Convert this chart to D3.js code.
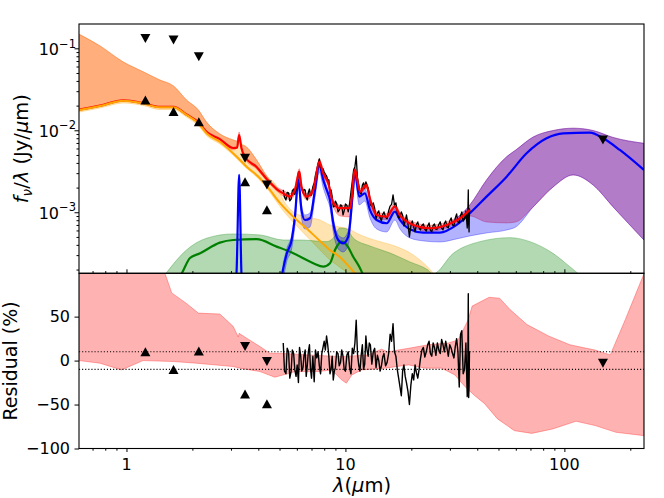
<!DOCTYPE html>
<html>
<head>
<meta charset="utf-8">
<script src="https://d3js.org/d3.v7.min.js"></script>
<style>
  html, body { margin: 0; padding: 0; background: #fff; }
  svg { display: block; font-family: "DejaVu Sans", sans-serif; }
</style>
</head>
<body>
<svg id="chart" width="664" height="498"></svg>
<script>
// ---- stellar component (orange) ----
const stellarWave = [0.609, 0.757, 0.967, 1.19, 1.42, 1.64, 1.88, 2.13, 2.32, 2.67, 3.19, 3.54, 4.07, 4.52, 5.02, 5.77, 6.63, 7.65, 8.49, 9.4, 10.4, 11.2, 12.0];
const stellarFlux = [0.0177, 0.0198, 0.0230, 0.0213, 0.0191, 0.0191, 0.0154, 0.0122, 0.00919, 0.00726, 0.00476, 0.0036, 0.0026, 0.00187, 0.0013, 0.000884, 0.000638, 0.000447, 0.000347, 0.000287, 0.000217, 0.000172, 0.000137];
const stellarBandWave = [0.609, 0.757, 0.967, 1.19, 1.42, 1.64, 1.88, 2.13, 2.32, 2.67, 3.07, 3.48, 3.93, 4.37, 4.85, 5.2, 5.77, 6.63, 7.65, 8.49, 9.4, 10.4, 11.2, 12.7, 14.4, 16.8, 20.4, 23.5, 25.6];
const stellarBandHi = [0.148, 0.107, 0.0681, 0.0518, 0.0411, 0.0347, 0.0234, 0.0177, 0.0126, 0.00902, 0.00762, 0.00643, 0.00434, 0.00277, 0.00209, 0.00141, 0.00101, 0.000877, 0.000805, 0.0007, 0.000662, 0.000626, 0.000559, 0.000486, 0.000438, 0.000388, 0.000302, 0.000221, 0.000172];
const stellarBandLo = [0.0167, 0.0187, 0.0215, 0.0201, 0.0179, 0.0179, 0.0145, 0.0114, 0.00864, 0.00681, 0.005, 0.00357, 0.0027, 0.00198, 0.00134, 0.00104, 0.000762, 0.000514, 0.000347, 0.000262, 0.000215, 0.000163, 1e-5, 1e-5, 1e-5, 1e-5, 1e-5, 1e-5, 1e-5];

// ---- total model (red) ----
const totalWave = [0.609, 0.757, 0.967, 1.19, 1.42, 1.64, 1.88, 2.13, 2.32, 2.67, 3.07, 3.20, 3.27, 3.35, 3.48, 3.93, 4.37, 4.85,
  5.2, 5.58, 5.88, 6.16, 6.3, 6.65, 7.13, 7.6, 7.92, 8.35, 8.8, 9.45, 10.5, 11.05, 11.67, 12.45, 12.98, 13.9, 15.4, 16.8, 17.7, 20.4, 24.3, 29.0, 33.4, 37.0];
const totalFlux = [0.0179, 0.0200, 0.0232, 0.0215, 0.0193, 0.0193, 0.0156, 0.0125, 0.0096, 0.0078, 0.00608, 0.00615, 0.00876, 0.00608, 0.00472, 0.00357, 0.00255, 0.00192,
  0.0017, 0.00155, 0.00187, 0.00313, 0.00205, 0.00155, 0.00187, 0.00414, 0.00299, 0.00226, 0.00129, 0.00112, 0.00112, 0.00328, 0.00178, 0.00215, 0.00141, 0.000927, 0.000884, 0.00117, 0.000927, 0.0007, 0.000638, 0.0007, 0.000845, 0.00107];
const totalBandWave = [0.609, 0.757, 0.967, 1.19, 1.42, 1.64, 1.88, 2.13, 2.32, 2.67, 3.07, 3.20, 3.27, 3.35, 3.48, 3.93, 4.37, 4.85,
  5.2, 5.58, 5.88, 6.16, 6.3, 6.65, 7.13, 7.6, 7.92, 8.35, 8.8, 9.45, 10.5, 11.05, 11.67, 12.45, 12.98, 13.9, 15.4, 16.8, 17.7, 20.4, 24.3, 29.0, 33.4, 37.0,
  44.1, 54.5, 60.0, 72.0, 88.9, 109.7, 135.3, 167.0, 230.7];
const totalBandHi = [0.148, 0.107, 0.0681, 0.0518, 0.0411, 0.0347, 0.0234, 0.0177, 0.0126, 0.00902, 0.00762, 0.0074, 0.00954, 0.00662, 0.00643, 0.00434, 0.00277, 0.00204,
  0.00185, 0.00169, 0.00204, 0.0034, 0.00223, 0.00169, 0.00204, 0.0045, 0.00325, 0.00246, 0.0014, 0.00122, 0.00122, 0.00357, 0.00194, 0.00234, 0.00154, 0.00101, 0.000961, 0.00127, 0.00101, 0.000762, 0.000694, 0.000762, 0.000919, 0.00123,
  0.00248, 0.00476, 0.00575, 0.00828, 0.00994, 0.0106, 0.00994, 0.00817, 0.00694];
const totalBandLo = [0.0174, 0.0195, 0.0225, 0.0209, 0.0187, 0.0187, 0.0152, 0.0121, 0.0094, 0.00762, 0.00575, 0.00608, 0.00783, 0.00575, 0.00447, 0.00337, 0.00241, 0.00182,
  0.00157, 0.00142, 0.00172, 0.00287, 0.00189, 0.00142, 0.00172, 0.00381, 0.00275, 0.00208, 0.00118, 0.000902, 0.000877, 0.00302, 0.00164, 0.00198, 0.0013, 0.000852, 0.000812, 0.00108, 0.000852, 0.000643, 0.000587, 0.000643, 0.000777, 0.000902,
  0.000762, 0.000741, 0.000762, 0.00116, 0.00204, 0.00285, 0.00215, 0.00116, 0.000459];

// ---- hot dust (green) ----
const hotWave = [1.66, 1.79, 1.95, 2.17, 2.67, 3.07, 3.93, 4.85, 5.78, 7.13, 7.92, 8.5, 8.96, 9.61, 10.13, 10.85, 11.86, 12.27];
const hotFlux = [0.00013, 0.00018, 0.000277, 0.000316, 0.000426, 0.000459, 0.000469, 0.000381, 0.000316, 0.000239, 0.000217, 0.000239, 0.000347, 0.000438, 0.000399, 0.000287, 0.000189, 0.000149];
const hotBandWave = [1.52, 1.88, 2.32, 3.07, 4.07, 5.2, 6.2, 8.21, 8.8, 9.45, 10.13, 10.85, 12.94, 15.97, 19.7, 23.8, 25.1, 31.1, 41.1, 56.4, 69.6, 88.6, 105.9, 117.7];
const hotBandHi = [0.000182, 0.000347, 0.000482, 0.000544, 0.000529, 0.000459, 0.000459, 0.000438, 0.000486, 0.000643, 0.000626, 0.000486, 0.000388, 0.000319, 0.000248, 0.000198, 0.000177, 0.000316, 0.000438, 0.00049, 0.000438, 0.000316, 0.000217, 0.000172];
const hotBandLo = [1e-5, 1e-5, 1e-5, 1e-5, 1e-5, 1e-5, 1e-5, 1e-5, 1e-5, 1e-5, 1e-5, 1e-5, 1e-5, 1e-5, 1e-5, 1e-5, 1e-5, 1e-5, 1e-5, 1e-5, 1e-5, 1e-5, 1e-5, 1e-5];

// ---- PAH + cold dust (blue) ----
const dustWave = [2.97, 3.18, 3.27, 3.35, 3.48, 4.5, 5.0,
  5.2, 5.39, 5.68, 5.88, 6.09, 6.3, 6.53, 6.89, 7.26, 7.6, 7.92, 8.21, 8.5, 8.8, 9.27, 9.77, 10.3, 10.8, 11.05, 11.56,
  12.27, 12.94, 13.88, 15.42, 16.83, 17.74, 19.7, 22.7, 27.0, 32.2, 37.0, 44.1, 54.5, 67.2, 82.9, 98.7, 130.8, 150.3, 179.2, 230.7];
const dustFlux = [5e-5, 1.8e-4, 0.00285, 1.8e-4, 5e-5, 4e-5, 1.2e-4,
  0.000207, 0.00031, 0.000459, 0.000884, 0.00248, 0.00107, 0.000805, 0.000845, 0.00187, 0.00377, 0.00248, 0.00187, 0.00141, 0.000734, 0.000459, 0.000418, 0.000504, 0.0017, 0.00313, 0.00155,
  0.0017, 0.00107, 0.000805, 0.000734, 0.00102, 0.000805, 0.00062, 0.000564, 0.000564, 0.0007, 0.000972, 0.00155, 0.00272, 0.00524, 0.00799, 0.00919, 0.00935, 0.00799, 0.00575, 0.00328];
const dustBandWave = [5.2, 5.39, 5.68, 5.88, 6.09, 6.3, 6.53, 6.89, 7.26, 7.6, 7.92, 8.21, 8.5, 8.8, 9.27, 9.77, 10.3, 10.8, 11.05, 11.56,
  12.27, 12.94, 13.88, 15.42, 16.83, 17.74, 19.7, 22.7, 27.0, 32.2, 37.0, 44.1, 54.5, 60.0, 72.0, 88.9, 109.7, 135.3, 167.0, 230.7];
const dustBandHi = [0.000241, 0.000357, 0.000529, 0.00101, 0.00277, 0.00123, 0.000927, 0.00098, 0.00209, 0.00422, 0.00277, 0.00209, 0.00158, 0.000852, 0.000529, 0.000486, 0.000591, 0.00192, 0.00347, 0.00177,
  0.00192, 0.00123, 0.000927, 0.000852, 0.00116, 0.000927, 0.00072, 0.000643, 0.000643, 0.000852, 0.00123, 0.00248, 0.00476, 0.00575, 0.00828, 0.00994, 0.0106, 0.00994, 0.00817, 0.00694];
const dustBandLo = [0.000149, 0.000248, 0.000357, 0.000681, 0.00198, 0.000852, 0.000626, 0.000662, 0.00149, 0.0031, 0.00198, 0.00149, 0.00113, 0.000575, 0.000357, 0.000328, 0.000399, 0.00137, 0.00255, 0.00123,
  0.00137, 0.000852, 0.000626, 0.000575, 0.000805, 0.000626, 0.000486, 0.000447, 0.000434, 0.000473, 0.000514, 0.000559, 0.000608, 0.000662, 0.00116, 0.00204, 0.00285, 0.00215, 0.00116, 0.000459];

// ---- IRS spectrum and its residual ----
const specWave = [5.2, 5.27, 5.35, 5.42, 5.5, 5.57, 5.65, 5.72, 5.8, 5.87, 5.95, 6.02, 6.1, 6.17, 6.25, 6.32, 6.4, 6.47, 6.55, 6.62,
  6.7, 6.77, 6.85, 6.92, 7.0, 7.1, 7.2, 7.3, 7.4, 7.5, 7.6, 7.7, 7.8, 7.9, 8.0, 8.1, 8.2, 8.3, 8.4, 8.5,
  8.6, 8.7, 8.8, 8.9, 9.0, 9.12, 9.25, 9.37, 9.5, 9.62, 9.75, 9.87, 10.0, 10.15, 10.3, 10.45, 10.6, 10.75, 10.9, 11.05,
  11.2, 11.35, 11.5, 11.65, 11.8, 11.95, 12.1, 12.25, 12.4, 12.55, 12.7, 12.85, 13.0, 13.2, 13.4, 13.6, 13.8, 14.0, 14.2, 14.4,
  14.6, 14.8, 15.0, 15.25, 15.5, 15.75, 16.0, 16.25, 16.5, 16.75, 17.0, 17.25, 17.5, 17.75, 18.0, 18.25, 18.5, 18.75, 19.0, 19.3,
  19.6, 19.9, 20.2, 20.5, 20.8, 21.1, 21.4, 21.7, 22.0, 22.35, 22.7, 23.05, 23.4, 23.75, 24.1, 24.45, 24.8, 25.15, 25.5, 25.9,
  26.3, 26.7, 27.1, 27.5, 27.9, 28.3, 28.7, 29.1, 29.5, 29.95, 30.4, 30.85, 31.3, 31.75, 32.2, 32.65, 33.1, 33.55, 34.0, 34.5,
  35.0, 35.5, 36.0, 36.2, 36.4, 36.55, 36.7, 36.85, 37.0];
const specFlux = [0.00187, 0.00152, 0.00141, 0.00175, 0.00172, 0.00138, 0.00145, 0.00183, 0.00192, 0.00165, 0.00187, 0.0022, 0.0031, 0.0029, 0.00221, 0.00195, 0.00172, 0.0019, 0.00187, 0.00151,
  0.00141, 0.00175, 0.00192, 0.0016, 0.00163, 0.00205, 0.00228, 0.00285, 0.00328, 0.0039, 0.00447, 0.0036, 0.00319, 0.0034, 0.0031, 0.0029, 0.00277, 0.0025, 0.00248, 0.0017,
  0.00187, 0.00155, 0.00116, 0.00118, 0.00137, 0.00128, 0.00101, 0.00106, 0.00123, 0.00121, 0.000927, 0.00104, 0.00126, 0.00122, 0.00101, 0.00128, 0.00177, 0.0024, 0.00328, 0.0036,
  0.00486, 0.0026, 0.00215, 0.00175, 0.00167, 0.00215, 0.00228, 0.00196, 0.00234, 0.00212, 0.00198, 0.00165, 0.00123, 0.00118, 0.0013, 0.00112, 0.000829, 0.000975, 0.00104, 0.000855,
  0.000783, 0.000935, 0.00101, 0.000875, 0.000829, 0.00104, 0.00119, 0.00125, 0.00163, 0.00122, 0.0013, 0.00098, 0.000852, 0.00088, 0.00101, 0.00092, 0.000681, 0.00078, 0.000927, 0.00072,
  0.0005, 0.00068, 0.000783, 0.00066, 0.000575, 0.00071, 0.000762, 0.00064, 0.000608, 0.00069, 0.00072, 0.00062, 0.000591, 0.00068, 0.000741, 0.0006, 0.000575, 0.00069, 0.00072, 0.00062,
  0.000626, 0.00071, 0.000762, 0.00064, 0.000608, 0.00073, 0.000783, 0.00066, 0.000643, 0.00078, 0.000852, 0.0007, 0.000681, 0.00085, 0.000953, 0.00076, 0.000741, 0.00091, 0.00101, 0.00078,
  0.000829, 0.00104, 0.000643, 0.00088, 0.00187, 0.00072, 0.000575, 0.0011, 0.00101];
const specResid = [20, -12, -15, 14, 10, -20, -12, 12, 8, -10, -18, -5, -25, 15, 5, -12, -8, 6, 12, -18,
  -5, 10, 18, -8, -20, 5, -24, 12, 3, 10, -6, -15, 8, 15, 22, 12, 28, 18, 5, -15,
  -10, 5, -22, -12, -8, 10, 8, -6, -2, 12, 5, -10, -12, 6, 10, -8, -15, 14, 8, 20,
  46, 8, -5, -12, 6, 18, -10, -4, 28, 12, 5, 20, 18, -4, 10, 14, -8, 6, 0, -12,
  -6, 4, 8, -6, -2, 8, 30, 22, 42, 10, 5, -10, -20, -30, -40, -12, -5, -18, -25, -35,
  -50, -28, -15, -22, -5, -14, -20, -10, 2, 12, 15, 4, 10, 18, 22, 8, 5, 20, 15, 6,
  20, 12, 8, 24, 18, 10, 22, 14, 5, 18, 14, 8, 3, 16, 25, 10, -30, 30, 34, -15,
  -10, 20, -41, -20, 76, -42, -30, 10, 10];

// ---- photometry ----
const photWave = [1.22, 1.64, 2.14, 3.48, 4.38];
const photFlux = [0.0234, 0.0169, 0.0127, 0.00236, 0.00107];
const photResid = [10, -10, 11, -38, -49];
const limWave = [1.22, 1.64, 2.14, 3.48, 4.38, 150];
const limFlux = [0.132, 0.126, 0.079, 0.00456, 0.00215, 0.0076];
const limResWave = [3.48, 4.38, 150];
const limResid = [16, -1, -3];

// ---- residual envelope ----
const residHiWave = [0.607, 1.45, 1.5, 1.61, 1.88, 2.13, 2.67, 3.07, 3.24, 3.27, 3.54, 4.07, 4.52, 5.02, 6.76, 9.6, 12.7, 14.6, 15.6, 19.4, 23.9, 29.5, 32.7, 36.3, 37.9, 45.3, 50.6, 56.5, 67.5, 84.7, 106, 138, 162, 190, 231];
const residHi = [150, 150, 99, 77, 65, 54, 53, 39, 27, 31, 25.5, 16, 8.4, 8.4, 6.5, 4.5, 6.5, 13, 10, 14, 18, 20, 23.5, 46, 62, 72, 71, 58, 41, 28, 18, 12, 6.5, 47, 99];
const residLoWave = [0.607, 0.757, 0.95, 1.19, 1.64, 2.09, 3.07, 3.3, 4.07, 4.76, 5.9, 7.5, 8.66, 9.6, 10.1, 10.7, 11.86, 15.2, 19.4, 23.1, 27.5, 31.6, 35.1, 39, 43.2, 49.5, 59.1, 71, 88.4, 113, 138, 172, 231];
const residLo = [0, -3, -10.6, 0, -1.1, -3, -6.8, -8.6, -12.5, -18.9, -12.5, -12.5, -10.6, -21.9, -25.7, -16.3, -10.6, -8.6, -4.9, -8.6, -8.6, -16.3, -29.5, -40, -49, -66.3, -79.7, -82.8, -77.8, -69, -73.9, -81.6, -85.4];
const residRefLevels = [10, -10];

// ---- ticks ----
const xTickValues = [1, 10, 100];
const xTickLabels = ["1", "10", "100"];
const yTopTickValues = [1e-3, 1e-2, 1e-1];
const yTopTickExp = ["\u22123", "\u22122", "\u22121"];
const yResTickValues = [-100, -50, 0, 50];
const yResTickLabels = ["\u2212100", "\u221250", "0", "50"];

// ---------------------------------------------------------------
const svg = d3.select("#chart");
const L = 79, R = 644, T = 24, MID = 273.3, B = 448.5;

const x = d3.scaleLog().domain([0.607, 231]).range([L, R]);
const yTop = d3.scaleLog().domain([1.8e-4, 0.198]).range([MID, T]);
const yRes = d3.scaleLinear().domain([-100, 99.3]).range([B, MID]);

const defs = svg.append("defs");
defs.append("clipPath").attr("id", "clip-top")
  .append("rect").attr("x", L).attr("y", T).attr("width", R - L).attr("height", MID - T);
defs.append("clipPath").attr("id", "clip-res")
  .append("rect").attr("x", L).attr("y", MID).attr("width", R - L).attr("height", B - MID);

const gTop = svg.append("g").attr("clip-path", "url(#clip-top)");
const gRes = svg.append("g").attr("clip-path", "url(#clip-res)");

const zip2 = (w, a) => w.map((d, i) => ({ x: d, y: a[i] }));
const zip3 = (w, hi, lo) => w.map((d, i) => ({ x: d, hi: hi[i], lo: lo[i] }));

const bandArea = d3.area().curve(d3.curveMonotoneX)
  .x(d => x(d.x)).y0(d => yTop(d.lo)).y1(d => yTop(d.hi));
const smoothLine = d3.line().curve(d3.curveMonotoneX)
  .x(d => x(d.x)).y(d => yTop(d.y));
const rawLine = d3.line()
  .x(d => x(d.x)).y(d => yTop(d.y));

function band(wave, hi, lo, color) {
  gTop.append("path").datum(zip3(wave, hi, lo))
    .attr("d", bandArea)
    .attr("fill", color).attr("fill-opacity", 0.3)
    .attr("stroke", color).attr("stroke-opacity", 0.3).attr("stroke-width", 1);
}
function curve(wave, flux, color, width, gen) {
  gTop.append("path").datum(zip2(wave, flux))
    .attr("d", gen || smoothLine)
    .attr("fill", "none").attr("stroke", color)
    .attr("stroke-width", width).attr("stroke-linejoin", "round");
}

// bands (red first so the others tint over it)
band(totalBandWave, totalBandHi, totalBandLo, "red");
band(stellarBandWave, stellarBandHi, stellarBandLo, "orange");
band(hotBandWave, hotBandHi, hotBandLo, "green");
band(dustBandWave, dustBandHi, dustBandLo, "blue");

// model lines + data
curve(hotWave, hotFlux, "green", 2.2);
curve(dustWave, dustFlux, "blue", 2.2);
curve(specWave, specFlux, "black", 1.3, rawLine);
curve(totalWave, totalFlux, "red", 2.2);
curve(stellarWave, stellarFlux, "orange", 2);

const triUp = "M0,-4.5L5,4.5L-5,4.5Z";
const triDown = "M0,4.5L5,-4.5L-5,-4.5Z";

svg.append("g").selectAll("path")
  .data(zip2(photWave, photFlux)).join("path")
  .attr("d", triUp).attr("fill", "black")
  .attr("transform", d => `translate(${x(d.x)},${yTop(d.y)})`);
svg.append("g").selectAll("path")
  .data(zip2(limWave, limFlux)).join("path")
  .attr("d", triDown).attr("fill", "black")
  .attr("transform", d => `translate(${x(d.x)},${yTop(d.y)})`);

// ---- residual panel ----
const resLine = d3.line().x(d => x(d.x)).y(d => yRes(d.y));
const envelope = zip2(residHiWave, residHi).concat(zip2(residLoWave, residLo).reverse());
gRes.append("path").datum(envelope)
  .attr("d", d => resLine(d) + "Z")
  .attr("fill", "red").attr("fill-opacity", 0.3)
  .attr("stroke", "red").attr("stroke-opacity", 0.3).attr("stroke-width", 1);

gRes.selectAll("line.ref").data(residRefLevels).join("line")
  .attr("class", "ref")
  .attr("x1", L).attr("x2", R)
  .attr("y1", d => yRes(d)).attr("y2", d => yRes(d))
  .attr("stroke", "black").attr("stroke-width", 1.1)
  .attr("stroke-dasharray", "1.1,2");

gRes.append("path").datum(zip2(specWave, specResid))
  .attr("d", resLine)
  .attr("fill", "none").attr("stroke", "black").attr("stroke-width", 1.4)
  .attr("stroke-linejoin", "round");

svg.append("g").selectAll("path")
  .data(zip2(photWave, photResid)).join("path")
  .attr("d", triUp).attr("fill", "black")
  .attr("transform", d => `translate(${x(d.x)},${yRes(d.y)})`);
svg.append("g").selectAll("path")
  .data(zip2(limResWave, limResid)).join("path")
  .attr("d", triDown).attr("fill", "black")
  .attr("transform", d => `translate(${x(d.x)},${yRes(d.y)})`);

// ---- axes ----
const isDecade = v => Math.abs(Math.log10(v) - Math.round(Math.log10(v))) < 1e-9;
const xMinor = x.ticks().filter(v => !isDecade(v));
const yTopMinor = yTop.ticks().filter(v => !isDecade(v));
const noDomain = g => g.select(".domain").remove();

// top panel: y ticks out, x ticks pointing up
svg.append("g").attr("transform", `translate(${L},0)`)
  .call(d3.axisLeft(yTop).tickValues(yTopTickValues).tickSize(4.5).tickFormat("")).call(noDomain);
svg.append("g").attr("transform", `translate(${L},0)`)
  .call(d3.axisLeft(yTop).tickValues(yTopMinor).tickSize(2.5).tickFormat("")).call(noDomain);
svg.append("g").attr("transform", `translate(0,${MID})`)
  .call(d3.axisTop(x).tickValues(xTickValues).tickSize(4).tickFormat("")).call(noDomain);
svg.append("g").attr("transform", `translate(0,${MID})`)
  .call(d3.axisTop(x).tickValues(xMinor).tickSize(2.2).tickFormat("")).call(noDomain);

// residual panel
svg.append("g").attr("transform", `translate(${L},0)`)
  .call(d3.axisLeft(yRes).tickValues(yResTickValues).tickSize(4.5).tickFormat("")).call(noDomain);
svg.append("g").attr("transform", `translate(0,${B})`)
  .call(d3.axisBottom(x).tickValues(xTickValues).tickSize(3.5).tickFormat("")).call(noDomain);
svg.append("g").attr("transform", `translate(0,${B})`)
  .call(d3.axisBottom(x).tickValues(xMinor).tickSize(2.2).tickFormat("")).call(noDomain);

// spines
svg.append("rect").attr("x", L).attr("y", T).attr("width", R - L).attr("height", MID - T)
  .attr("fill", "none").attr("stroke", "black").attr("stroke-width", 1.1);
svg.append("rect").attr("x", L).attr("y", MID).attr("width", R - L).attr("height", B - MID)
  .attr("fill", "none").attr("stroke", "black").attr("stroke-width", 1.1);

// tick labels
const yTopLab = svg.append("g").attr("font-size", 16).attr("text-anchor", "end");
yTopTickValues.forEach((v, i) => {
  const t = yTopLab.append("text").attr("x", 76).attr("y", yTop(v) + 6.7).text("10");
  t.append("tspan").attr("dy", -7.5).attr("font-size", 11.5).text(yTopTickExp[i]);
});
svg.append("g").attr("font-size", 16).attr("text-anchor", "end")
  .selectAll("text").data(yResTickValues).join("text")
  .attr("x", 70).attr("y", d => yRes(d) + 5.6)
  .text((d, i) => yResTickLabels[i]);
svg.append("g").attr("font-size", 16).attr("text-anchor", "middle")
  .selectAll("text").data(xTickValues).join("text")
  .attr("x", d => x(d)).attr("y", 470)
  .text((d, i) => xTickLabels[i]);

// axis titles
const xt = svg.append("text").attr("x", 362).attr("y", 492)
  .attr("text-anchor", "middle").attr("font-size", 19.5);
xt.append("tspan").attr("font-style", "italic").text("\u03bb");
xt.append("tspan").text("(");
xt.append("tspan").attr("font-style", "italic").text("\u03bc");
xt.append("tspan").text("m)");

svg.append("text").attr("transform", `translate(17,${(MID + B) / 2}) rotate(-90)`)
  .attr("text-anchor", "middle").attr("font-size", 19).text("Residual (%)");

const yt = svg.append("text").attr("transform", `translate(28,${(T + MID) / 2}) rotate(-90)`)
  .attr("text-anchor", "middle").attr("font-size", 19.5);
yt.append("tspan").attr("font-style", "italic").text("f");
yt.append("tspan").attr("font-style", "italic").attr("font-size", 13.5).attr("dy", 3.5).text("\u03bd");
yt.append("tspan").attr("dy", -3.5).text("/");
yt.append("tspan").attr("font-style", "italic").text("\u03bb");
yt.append("tspan").text(" (Jy/");
yt.append("tspan").attr("font-style", "italic").text("\u03bc");
yt.append("tspan").text("m)");
</script>
</body>
</html>
